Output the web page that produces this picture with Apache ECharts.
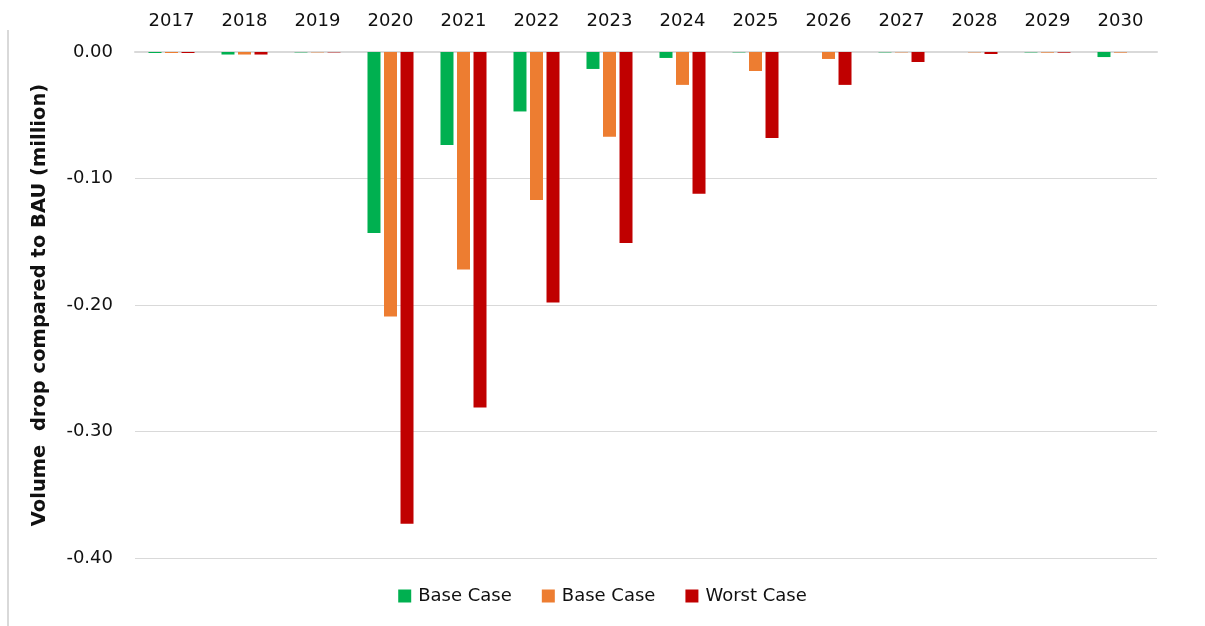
<!DOCTYPE html>
<html>
<head>
<meta charset="utf-8">
<title>Volume drop</title>
<style>
  html, body { margin: 0; height: 100%; background: #fff; }
  #main { width: 1205px; height: 626px; }
</style>
</head>
<body>
<div id="main"></div>
<script src="https://cdn.jsdelivr.net/npm/echarts@6/dist/echarts.min.js"></script>
<script>
var years = ['2017', '2018', '2019', '2020', '2021', '2022', '2023', '2024', '2025', '2026', '2027', '2028', '2029', '2030'];
var baseGreen = [-0.0008, -0.002, -0.0003, -0.143, -0.0735, -0.047, -0.0134, -0.0047, -0.0003, 0, -0.0003, 0, -0.0003, -0.004];
var baseOrange = [-0.0008, -0.002, -0.0003, -0.209, -0.172, -0.117, -0.067, -0.026, -0.015, -0.0055, -0.0003, -0.0003, -0.0005, -0.0005];
var worstRed = [-0.0008, -0.002, -0.0003, -0.373, -0.281, -0.198, -0.151, -0.112, -0.068, -0.026, -0.0079, -0.0016, -0.0005, 0];

var font = '"DejaVu Sans", sans-serif';
var myChart = echarts.init(document.getElementById('main'));

var bar = function(name, data, color) {
  return {
    name: name,
    type: 'bar',
    data: data,
    barWidth: 13,
    barGap: '27%',
    itemStyle: { color: color }
  };
};

myChart.setOption({
  animation: false,
  grid: { left: 135, right: 48, top: 52, bottom: 68 },
  legend: {
    top: 582,
    left: 'center',
    itemWidth: 13,
    itemHeight: 13,
    itemGap: 30,
    icon: 'rect',
    // second series name has a trailing space only to keep it apart from the first
    formatter: function(n) { return n.trim(); },
    textStyle: { fontFamily: font, fontSize: 18, color: '#111', padding: [0, 0, 0, 2] },
    data: [{ name: 'Base Case' }, { name: 'Base Case ' }, { name: 'Worst Case' }]
  },
  xAxis: {
    type: 'category',
    position: 'top',
    data: years,
    axisLine: { lineStyle: { color: '#d9d9d9', width: 2 } },
    axisTick: { inside: true, length: 6, lineStyle: { color: '#d9d9d9', width: 2 } },
    axisLabel: { fontFamily: font, fontSize: 18, color: '#111', margin: 22 }
  },
  yAxis: {
    type: 'value',
    min: -0.4,
    max: 0,
    interval: 0.1,
    name: 'Volume  drop compared to BAU (million)',
    nameLocation: 'middle',
    nameGap: 85,
    nameTextStyle: { fontFamily: font, fontSize: 19.5, fontWeight: 'bold', color: '#111' },
    axisLine: { show: false },
    axisTick: { show: false },
    splitLine: { lineStyle: { color: '#d9d9d9', width: 1 } },
    axisLabel: {
      fontFamily: font, fontSize: 18, color: '#111', margin: 22,
      formatter: function(v) { return Math.abs(v) < 1e-9 ? '0.00' : v.toFixed(2); }
    }
  },
  graphic: [{
    type: 'line',
    shape: { x1: 8, y1: 30, x2: 8, y2: 626 },
    style: { stroke: '#d9d9d9', lineWidth: 2 }
  }],
  series: [
    bar('Base Case', baseGreen, '#00b050'),
    bar('Base Case ', baseOrange, '#ed7d31'),
    bar('Worst Case', worstRed, '#c00000')
  ]
});
</script>
</body>
</html>
